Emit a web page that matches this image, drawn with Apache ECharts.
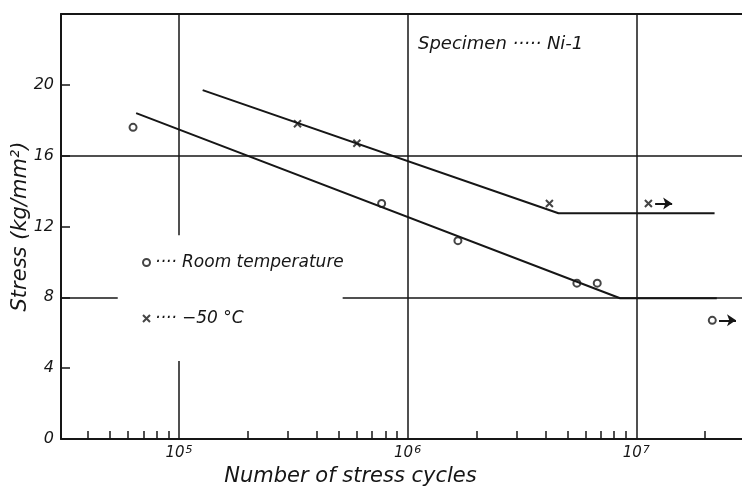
<!DOCTYPE html>
<html>
<head>
<meta charset="utf-8">
<script src="https://cdn.jsdelivr.net/npm/echarts@6/dist/echarts.min.js"></script>
<style>
  html, body { margin: 0; padding: 0; background: #fff; }
  #chart { width: 742px; height: 488px; }
</style>
</head>
<body>
<div id="chart"></div>
<script>
// S-N data, specimen Ni-1
const roomCycles = [6.3e4, 7.7e5, 1.66e6, 5.5e6, 6.75e6, 2.15e7];
const roomStress = [17.6, 13.3, 11.2, 8.8, 8.8, 6.7];
const coldCycles = [3.3e5, 6.0e5, 4.17e6, 1.13e7];
const coldStress = [17.8, 16.7, 13.3, 13.3];

// fitted S-N curves (knee + endurance limit)
const roomFitCycles = [6.5e4, 8.5e6, 2.25e7];
const roomFitStress = [18.4, 7.95, 7.95];
const coldFitCycles = [1.27e5, 4.57e6, 2.2e7];
const coldFitStress = [19.7, 12.75, 12.75];

// run-outs (specimen did not break) -> arrow
const roomRunout = [5];
const coldRunout = [3];

// axes
const xMin = 30500, xMax = 2.9e7;
const yTicks = [0, 4, 8, 12, 16, 20];
const decadeLabels = [1e5, 1e6, 1e7];
const minorTicks = [4e4, 5e4, 6e4, 7e4, 8e4, 9e4,
    2e5, 3e5, 4e5, 5e5, 6e5, 7e5, 8e5, 9e5,
    2e6, 3e6, 4e6, 5e6, 6e6, 7e6, 8e6, 9e6, 2e7];

// grid lines (broken where the key sits): [x, yFrom, yTo] / [y, xFrom, xTo]
const vGrid = [[1e5, 0, 4.4], [1e5, 11.5, 24], [1e6, 0, 24], [1e7, 0, 24]];
const hGrid = [[16, xMin, xMax], [8, xMin, 5.4e4], [8, 5.2e5, xMax]];

const INK = '#161616';
const FONT = 'DejaVu Sans';

function zipPts(xs, ys) {
    return xs.map((x, i) => [x, ys[i]]);
}

function runoutArrows(xs, ys, idx) {
    return idx.map(i => [
        { coord: [xs[i] * 1.07, ys[i]] },
        { coord: [xs[i] * 1.27, ys[i]] }
    ]);
}

const gridLines = [];
vGrid.forEach(g => gridLines.push([{ coord: [g[0], g[1]] }, { coord: [g[0], g[2]] }]));
hGrid.forEach(g => gridLines.push([{ coord: [g[1], g[0]] }, { coord: [g[2], g[0]] }]));

const chart = echarts.init(document.getElementById('chart'));

const option = {
    backgroundColor: '#fff',
    animation: false,
    title: {
        text: 'Specimen ····· Ni-1',
        left: 413,
        top: 30,
        textStyle: { fontFamily: FONT, fontStyle: 'italic', fontWeight: 'normal', fontSize: 18, color: INK }
    },
    legend: [
        {
            data: ['Room temperature'],
            left: 137, top: 249,
            itemWidth: 7, itemHeight: 7,
            formatter: '···· {name}',
            textStyle: { fontFamily: FONT, fontStyle: 'italic', fontSize: 17, color: INK }
        },
        {
            data: ['−50 °C'],
            left: 137, top: 305,
            itemWidth: 7, itemHeight: 7,
            formatter: '···· {name}',
            textStyle: { fontFamily: FONT, fontStyle: 'italic', fontSize: 17, color: INK }
        }
    ],
    grid: { left: 61, right: 0, top: 14, bottom: 49, outerBoundsMode: 'none' },
    xAxis: [
        {
            type: 'log',
            logBase: 10,
            min: xMin,
            max: xMax,
            name: 'Number of stress cycles',
            nameLocation: 'middle',
            nameGap: 27,
            nameMoveOverlap: false,
            nameTextStyle: {
                fontFamily: FONT, fontStyle: 'italic', fontSize: 21, color: INK,
                padding: [0, 102, 0, 0]
            },
            axisLine: { show: true, lineStyle: { color: INK, width: 2 } },
            axisTick: { show: true, inside: true, length: 8, customValues: minorTicks, lineStyle: { color: INK, width: 1.5 } },
            minorTick: { show: false },
            splitLine: { show: false },
            axisLabel: {
                customValues: decadeLabels,
                margin: 6,
                formatter: v => '{b|10}{s|' + Math.round(Math.log10(v)) + '}',
                rich: {
                    b: { fontFamily: FONT, fontStyle: 'italic', fontSize: 15, color: INK },
                    s: { fontFamily: FONT, fontStyle: 'italic', fontSize: 11, color: INK, verticalAlign: 'top', padding: [0, 0, 5, 1] }
                }
            }
        },
        {
            type: 'log',
            position: 'top',
            min: xMin,
            max: xMax,
            axisLine: { show: true, lineStyle: { color: INK, width: 2 } },
            axisTick: { show: false },
            axisLabel: { show: false },
            splitLine: { show: false }
        }
    ],
    yAxis: {
        type: 'value',
        min: 0,
        max: 24,
        interval: 4,
        name: 'Stress (kg/mm²)',
        nameLocation: 'middle',
        nameRotate: 90,
        nameGap: 30,
        nameMoveOverlap: false,
        nameTextStyle: { fontFamily: FONT, fontStyle: 'italic', fontSize: 21, color: INK },
        axisLine: { show: true, lineStyle: { color: INK, width: 2 } },
        axisTick: { show: true, inside: true, length: 9, lineStyle: { color: INK, width: 1.5 } },
        splitLine: { show: false },
        axisLabel: {
            margin: 7,
            fontFamily: FONT, fontStyle: 'italic', fontSize: 16, color: INK,
            formatter: v => (yTicks.indexOf(v) >= 0 ? String(v) : '')
        }
    },
    series: [
        {
            name: 'grid',
            type: 'line',
            data: [],
            silent: true,
            markLine: {
                silent: true,
                symbol: ['none', 'none'],
                label: { show: false },
                lineStyle: { color: INK, width: 1.5, type: 'solid' },
                data: gridLines
            }
        },
        {
            name: 'roomFit',
            type: 'line',
            data: zipPts(roomFitCycles, roomFitStress),
            showSymbol: false,
            symbol: 'none',
            lineStyle: { color: INK, width: 2 }
        },
        {
            name: 'coldFit',
            type: 'line',
            data: zipPts(coldFitCycles, coldFitStress),
            showSymbol: false,
            symbol: 'none',
            lineStyle: { color: INK, width: 2 }
        },
        {
            name: 'Room temperature',
            type: 'scatter',
            data: zipPts(roomCycles, roomStress),
            symbol: 'emptyCircle',
            symbolSize: 7,
            itemStyle: { color: INK, borderColor: INK, borderWidth: 1.5 },
            markLine: {
                silent: true,
                symbol: ['none', 'arrow'],
                symbolSize: 9,
                label: { show: false },
                lineStyle: { color: INK, width: 2, type: 'solid' },
                data: runoutArrows(roomCycles, roomStress, roomRunout)
            }
        },
        {
            name: '−50 °C',
            type: 'scatter',
            data: zipPts(coldCycles, coldStress),
            symbol: 'path://M0,0L10,10M10,0L0,10',
            symbolSize: 7,
            itemStyle: { color: 'transparent', borderColor: INK, borderWidth: 2 },
            markLine: {
                silent: true,
                symbol: ['none', 'arrow'],
                symbolSize: 9,
                label: { show: false },
                lineStyle: { color: INK, width: 2, type: 'solid' },
                data: runoutArrows(coldCycles, coldStress, coldRunout)
            }
        }
    ]
};

chart.setOption(option);
</script>
</body>
</html>
